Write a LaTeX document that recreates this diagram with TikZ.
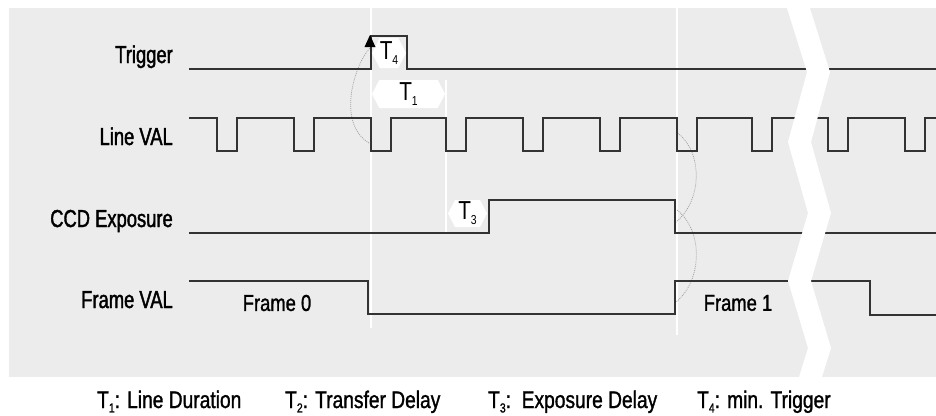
\documentclass[tikz,border=0pt]{standalone}
\usepackage{fontspec}
\setmainfont{Liberation Sans}
\newfontfamily\lblfont{Liberation Sans}[FakeStretch=0.75,FakeBold=1.6]
\newfontfamily\legfont{Liberation Sans}[FakeStretch=0.8,FakeBold=1.2]
\newfontfamily\hexfont{Liberation Sans}[FakeStretch=0.8]
\usetikzlibrary{shapes.symbols,arrows.meta}
\definecolor{bggray}{HTML}{ECECEC}
\definecolor{sig}{HTML}{333333}
\newcommand\Tsub[1]{T\raisebox{-0.35ex}{\fontsize{13bp}{14bp}\selectfont #1}}
\tikzset{
  siglabel/.style={font=\lblfont\fontsize{24.5bp}{28bp}\selectfont, anchor=base east, inner sep=0pt},
  frametext/.style={font=\legfont\fontsize{23bp}{28bp}\selectfont, inner sep=0pt},
  legend/.style={font=\legfont\fontsize{24bp}{28bp}\selectfont, anchor=base west, inner sep=0pt},
  wave/.style={draw=sig, line width=1.4bp},
  guide/.style={draw=white, line width=2bp},
  arcline/.style={draw=gray!75, line width=0.7bp, dash pattern=on 1bp off 1bp},
  hexlbl/.style={shape=signal, signal to=east and west, signal pointer angle=125, fill=white, inner sep=0pt, font=\hexfont\fontsize{26bp}{28bp}\selectfont}
}
\begin{document}
\begin{tikzpicture}[x=1bp,y=-1bp]
\useasboundingbox (0,0) rectangle (936,415);
% background panel
\fill[bggray] (9,8) rectangle (936,377);
% white guide lines
\draw[guide] (371,8) -- (371,328);
\draw[guide] (677,8) -- (677,335);
\draw[guide] (446,80) -- (446,232);
% signal labels
\node[siglabel] (lTrig) at (173,63) {Trigger};
\node[siglabel] (lLine) at (173,145) {Line VAL};
\node[siglabel] (lCCD) at (173,227) {CCD Exposure};
\node[siglabel] (lFrame) at (173,308) {Frame VAL};
% key coordinates
\coordinate (trigUp) at (370,35);
\coordinate (trigBase) at (370,48);
\coordinate (lvFall) at (369,143);
\coordinate (lvFallB) at (676,132);
\coordinate (ccdFall) at (676,222);
\coordinate (ccdFallB) at (677,210);
\coordinate (fvRise) at (676,302);
% dotted arcs
\draw[arcline] (lvFall) .. controls (335,122) and (356,62) .. (trigBase);
\draw[arcline] (lvFallB) .. controls (703,150) and (703,200) .. (ccdFall);
\draw[arcline] (ccdFallB) .. controls (703,230) and (703,280) .. (fvRise);
% Trigger
\draw[wave] (189,69) -- (371,69) -- (371,36) -- (407,36) -- (407,69) -- (936,69);
% Line VAL
\draw[wave] (189,118)
  -- (217,118) -- (217,151) -- (237,151) -- (237,118)
  -- (294,118) -- (294,151) -- (314,151) -- (314,118)
  -- (371,118) -- (371,151) -- (391,151) -- (391,118)
  -- (446,118) -- (446,151) -- (466,151) -- (466,118)
  -- (523,118) -- (523,151) -- (543,151) -- (543,118)
  -- (600,118) -- (600,151) -- (620,151) -- (620,118)
  -- (677,118) -- (677,151) -- (697,151) -- (697,118)
  -- (752,118) -- (752,151) -- (772,151) -- (772,118)
  -- (828,118) -- (828,151) -- (848,151) -- (848,118)
  -- (905,118) -- (905,151) -- (925,151) -- (925,118)
  -- (936,118);
% CCD Exposure
\draw[wave] (189,233) -- (489,233) -- (489,200) -- (675,200) -- (675,233) -- (936,233);
% Frame VAL
\draw[wave] (189,281) -- (368,281) -- (368,314) -- (675,314) -- (675,281) -- (870,281) -- (870,315) -- (936,315);
\node[frametext] (f0) at (277,303) {Frame 0};
\node[frametext] (f1) at (738,303) {Frame 1};
% timing labels
\node[hexlbl, minimum width=33bp, minimum height=30bp] (t4) at (389,53) {\Tsub{4}};
\node[hexlbl, minimum width=73bp, minimum height=28bp] (t1) at (408.5,94) {\Tsub{1}};
\node[hexlbl, minimum width=39bp, minimum height=27bp] (t3) at (467.5,213.5) {\Tsub{3}};
% arrow head on trigger edge
\fill[black] (trigUp) -- (364.5,47) -- (375.5,47) -- cycle;
% break band
\fill[white] (786,5) -- (807,72) -- (788,142) -- (808,213) -- (788,281) -- (808,348) -- (795,390)
  -- (818,390) -- (831,348) -- (811,281) -- (831,213) -- (811,142) -- (830,72) -- (809,5) -- cycle;
% legend
\node[legend] (k1) at (97,408) {\Tsub{1}: Line Duration};
\node[legend] (k2) at (285,408) {\Tsub{2}: Transfer Delay};
\node[legend] (k3) at (488,408) {\Tsub{3}:\ \ Exposure Delay};
\node[legend] (k4) at (697,408) {\Tsub{4}: min. Trigger};
\end{tikzpicture}
\end{document}
